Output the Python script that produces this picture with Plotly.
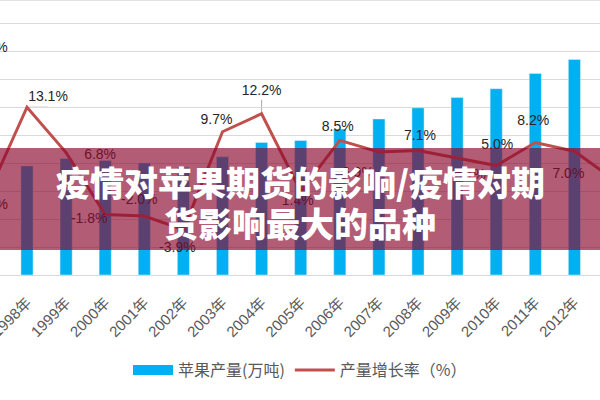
import plotly.graph_objects as go

# ---------------- data ----------------
years = ["1996年", "1997年", "1998年", "1999年", "2000年", "2001年", "2002年", "2003年", "2004年",
         "2005年", "2006年", "2007年", "2008年", "2009年", "2010年", "2011年", "2012年", "2013年"]
production = [1704.7, 1721.9, 1948.1, 2080.2, 2043.1, 2001.5, 1924.1, 2110.2, 2367.5,
              2401.1, 2605.9, 2786.0, 2984.7, 3168.1, 3326.3, 3598.5, 3849.1, 3968.3]
growth = [21.7, 1.0, 13.1, 6.8, -1.8, -2.0, -3.9, 9.7, 12.2,
          1.4, 8.5, 6.9, 7.1, 6.1, 5.0, 8.2, 7.0, 3.1]
bar_name = "苹果产量(万吨)"
line_name = "产量增长率（%）"
title_lines = ["疫情对苹果期货的影响/疫情对期", "货影响最大的品种"]

# label nudges in pixels (dx right, dy up) -- styling only
label_nudge_px = [(39, -3), (4, -11), (21, 10), (34, -3), (-16, -5), (-5, 15), (-6, -19), (-6, 11), (0, 22),
                  (-3, -10), (-2, 13), (-21, -22), (2, 14), (13, -18), (1, 20), (-2, 21), (-6, -23), (12, 0)]
leader_years = ["1998年", "2004年", "2011年"]

# ---------------- layout geometry ----------------
W, H = 600, 400
PLOT_H = 275
px_per_cat = 39.1
x0 = 2 - 27 / px_per_cat
x1 = x0 + W / px_per_cat
y_rng = [0, PLOT_H / 0.056]
y2_rng = [-10.2, 28.0]
px_per_pct = PLOT_H / (y2_rng[1] - y2_rng[0])

BLUE = "#00B0F0"
RED = "#C0504D"
GRAY = "#595959"

fig = go.Figure()
fig.add_trace(go.Bar(x=years, y=production, marker_color=BLUE, width=0.31,
                     showlegend=False, name=bar_name))
fig.add_trace(go.Scatter(x=years, y=growth, mode="lines", yaxis="y2",
                         line=dict(color=RED, width=3), showlegend=False, name=line_name))

label_x = [i + d[0] / px_per_cat for i, d in enumerate(label_nudge_px)]
label_y = [g + d[1] / px_per_pct for g, d in zip(growth, label_nudge_px)]
fig.add_trace(go.Scatter(x=label_x, y=label_y, xaxis="x2", yaxis="y2", mode="text",
                         text=[f"{g:.1f}%" for g in growth], textposition="middle center",
                         textfont=dict(family="Liberation Sans, Noto Sans CJK SC", size=14, color="#262626"),
                         showlegend=False, hoverinfo="skip"))

# leader lines from point toward label
shapes = []
for yr in leader_years:
    i = years.index(yr)
    dx, dy = label_nudge_px[i]
    if abs(dx) > abs(dy):
        sx1, sy1 = label_x[i], growth[i]
    else:
        sx1, sy1 = i, growth[i] + (dy - 8) / px_per_pct
    shapes.append(dict(type="line", xref="x2", yref="y2", x0=i, y0=growth[i], x1=sx1, y1=sy1,
                       line=dict(color="#a6a6a6", width=1), layer="below"))

# legend entries
fig.add_trace(go.Scatter(x=[None], y=[None], mode="lines", line=dict(color=BLUE, width=12), name=bar_name))
fig.add_trace(go.Scatter(x=[None], y=[None], mode="lines", line=dict(color=RED, width=3), name=line_name))

shapes += [
    dict(type="line", xref="paper", yref="paper", x0=0, x1=1, y0=1, y1=1,
         line=dict(color="#d9d9d9", width=1.5)),
    dict(type="rect", xref="paper", yref="paper", x0=0, x1=1,
         y0=(PLOT_H - 250) / PLOT_H, y1=(PLOT_H - 148) / PLOT_H,
         fillcolor="rgba(140,8,45,0.66)", line=dict(width=0), layer="above"),
]

title_y_px = [181, 222]
annotations = [dict(text=t, xref="paper", yref="paper", x=0.5, y=(PLOT_H - yp) / PLOT_H,
                    xanchor="center", yanchor="middle", showarrow=False,
                    font=dict(family="Noto Sans CJK SC", size=34, color="white", weight=900))
               for t, yp in zip(title_lines, title_y_px)]

fig.update_layout(
    width=W, height=H,
    margin=dict(l=0, r=0, t=0, b=H - PLOT_H, autoexpand=False),
    paper_bgcolor="white", plot_bgcolor="white",
    xaxis=dict(type="category", range=[x0, x1], showgrid=False, showline=True, linecolor="#d9d9d9",
               tickangle=-45, ticks="", ticklabelstandoff=12, automargin=False,
               tickfont=dict(family="Liberation Sans, Noto Sans CJK SC", size=15, color=GRAY)),
    xaxis2=dict(overlaying="x", range=[x0, x1], visible=False, automargin=False),
    yaxis=dict(range=y_rng, dtick=500, showgrid=True, gridcolor="#d9d9d9", gridwidth=1,
               showticklabels=False, zeroline=False, automargin=False),
    yaxis2=dict(overlaying="y", range=y2_rng, visible=False, showgrid=False, automargin=False),
    legend=dict(orientation="h", x=0.5, xanchor="center", y=(PLOT_H - 370) / PLOT_H, yanchor="middle",
                font=dict(family="Noto Sans CJK SC", size=16, color=GRAY), itemwidth=40),
    bargap=0.69,
    shapes=shapes,
    annotations=annotations,
)

fig.write_html("out.html")
